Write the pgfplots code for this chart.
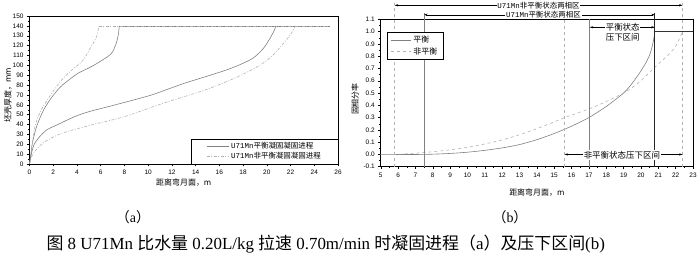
\documentclass[border=0pt]{standalone}
\usepackage{fontspec}
\setmainfont{Liberation Serif}
\newfontfamily\cjk{Noto Sans CJK SC}
\newfontfamily\sans{Liberation Sans}
\newfontfamily\mono{Liberation Mono}
\usepackage{pgfplots}
\pgfplotsset{compat=1.18}
\usetikzlibrary{arrows.meta}
\definecolor{eqc}{gray}{0.5}
\definecolor{neqc}{gray}{0.7}
\begin{document}
\begin{tikzpicture}
\useasboundingbox (0,0) rectangle (700bp,255bp);
\pgfplotsset{
  common/.style={
    scale only axis, anchor=south west,
    tick align=outside, xtick pos=bottom, ytick pos=left,
    major tick length=2.5bp, minor tick length=1.5bp,
    tick style={black, line width=0.4pt},
    axis line style={line width=0.6pt},
    tick label style={font=\sans\fontsize{6.5}{7}\selectfont},
    /pgf/number format/assume math mode=true,
    label style={font=\cjk\fontsize{8}{9}\selectfont},
  }
}
% ---------------- (a) ----------------
\begin{axis}[common,
  at={(29.5bp,91bp)}, width=308.5bp, height=148bp,
  xmin=0, xmax=26, ymin=0, ymax=150,
  xtick={0,2,...,26}, ytick={0,10,...,150},
  minor x tick num=1, minor y tick num=1,
  xlabel={距离弯月面，m}, ylabel={坯壳厚度，mm},
  xlabel style={at={(axis description cs:0.5,-0.128)}, anchor=center},
  ylabel style={at={(axis description cs:-0.07,0.466)}, anchor=center},
  legend style={at={(1,0)}, anchor=south east, draw=black, line width=0.4pt,
    font=\fontsize{7.5}{8.5}\selectfont, inner xsep=15bp, inner ysep=1.5bp,
    row sep=-1.5bp},
  legend cell align=left,
  legend image code/.code={\draw[#1] (0bp,0bp) -- (22bp,0bp);},
]
\addplot[eqc, line width=0.6pt, smooth, tension=0.5] coordinates {
(0,0) (0.1,8) (0.24,21) (0.6,38) (1.2,55) (1.9,68) (2.6,78) (3.3,85) (4.1,92)
(5.2,98.6) (6.1,105) (6.9,112) (7.3,122) (7.5,132) (7.56,140)};
\addlegendentry{{\mono U71Mn}{\cjk 平衡凝固凝固进程}}
\addplot[neqc, line width=0.6pt, smooth, tension=0.5, dash pattern=on 3bp off 1.5bp on 1bp off 1.5bp] coordinates {
(0,0) (0.1,8) (0.46,38) (1.0,55) (1.9,72) (2.7,85) (3.55,95) (4.5,105)
(5.2,119) (5.65,129) (5.85,140)};
\addlegendentry{{\mono U71Mn}{\cjk 非平衡凝固凝固进程}}
\addplot[eqc, line width=0.6pt, forget plot] coordinates {(7.56,140) (25.3,140)};
\addplot[neqc, line width=0.6pt, forget plot, dash pattern=on 3bp off 1.5bp on 1bp off 1.5bp] coordinates {(5.85,140) (25.3,140)};
\addplot[eqc, line width=0.6pt, smooth, tension=0.5, forget plot] coordinates {
(0,0) (0.15,10) (0.4,20) (0.88,28) (1.5,35) (2.3,39.5) (3.8,48) (5,53) (6.6,58)
(8.5,64) (10.3,70) (11.7,76) (13.1,82) (14.7,88) (16.4,94.5) (17.6,100)
(18.8,107) (19.7,117) (20.3,128) (20.65,136) (20.75,140)};
\addplot[neqc, line width=0.6pt, smooth, tension=0.5, dash pattern=on 3bp off 1.5bp on 1bp off 1.5bp, forget plot] coordinates {
(0,0) (0.2,8) (0.6,15) (1.3,22.6) (2.7,31) (5.2,39.5) (8.0,48) (11.0,60.5)
(13.1,68.5) (14.8,75) (16.6,83.4) (18.0,91) (19.4,100) (20.4,109) (21.1,118)
(21.8,128) (22.2,135) (22.4,140)};
\end{axis}
% ---------------- (b) ----------------
\begin{axis}[common,
  at={(380.7bp,88.3bp)}, width=312.3bp, height=147.4bp,
  xmin=5, xmax=23, ymin=-0.1, ymax=1.1, clip=false,
  xtick={5,6,...,23},
  ytick={-0.1,0,0.1,0.2,0.3,0.4,0.5,0.6,0.7,0.8,0.9,1.0,1.1},
  yticklabel style={/pgf/number format/.cd, fixed, fixed zerofill, precision=1},
  minor x tick num=1, minor y tick num=1,
  xlabel={距离弯月面，m}, ylabel={固相分率},
  xlabel style={at={(axis description cs:0.5,-0.178)}, anchor=center},
  ylabel style={at={(axis description cs:-0.082,0.459)}, anchor=center},
  legend style={at={(0.019,0.914)}, anchor=north west, draw=black, line width=0.4pt,
    font=\cjk\fontsize{8}{9}\selectfont, inner xsep=4bp, inner ysep=2bp,
    row sep=-1bp},
  legend cell align=left,
  legend image code/.code={\draw[#1] (0bp,0bp) -- (20bp,0bp);},
]
\addplot[eqc, line width=0.6pt, smooth, tension=0.4] coordinates {
(5,0) (7.5,0) (9,0.008) (10,0.018) (11,0.033) (12,0.053) (13,0.08) (14,0.12)
(15,0.17) (16,0.23) (17,0.30) (18,0.39) (19,0.5) (19.5,0.58) (20,0.68)
(20.3,0.75) (20.5,0.81) (20.65,0.88) (20.75,0.95) (20.8,1.0)};
\addlegendentry{平衡}
\addplot[neqc, line width=0.6pt, dashed, smooth, tension=0.4] coordinates {
(5,0) (5.8,0) (7,0.01) (8,0.022) (9,0.037) (10,0.058) (11,0.085) (12,0.118)
(13,0.16) (14,0.21) (15,0.265) (15.6,0.3) (16,0.32) (17,0.37) (18,0.43)
(19,0.5) (19.5,0.545) (20,0.6) (20.8,0.71) (21.5,0.8) (22,0.88) (22.4,1.0)};
\addlegendentry{非平衡}
% vertical guide lines
\addplot[neqc, dashed, line width=0.5pt, forget plot] coordinates {(5.8,-0.1) (5.8,1.235)};
\addplot[neqc, dashed, line width=0.5pt, forget plot] coordinates {(22.4,-0.1) (22.4,1.235)};
\addplot[neqc, dashed, line width=0.5pt, forget plot] coordinates {(15.6,-0.1) (15.6,1.1)};
\addplot[eqc, line width=0.6pt, forget plot] coordinates {(7.5,-0.1) (7.5,1.155)};
\addplot[eqc, line width=0.6pt, forget plot] coordinates {(17.05,-0.1) (17.05,1.1)};
\addplot[black!85, line width=1.3pt, forget plot] coordinates {(20.8,-0.1) (20.8,1.155)};
\addplot[black!80, line width=0.6pt, forget plot] coordinates {(20.8,1.0) (23,1.0)};
% brackets
\draw[{Stealth[length=3.5bp,width=2.2bp]}-{Stealth[length=3.5bp,width=2.2bp]}, line width=0.5pt]
  (axis cs:5.8,1.214) -- (axis cs:22.4,1.214);
\node[fill=white, inner sep=0.8bp, font=\fontsize{7.5}{8}\selectfont] at (axis cs:14.1,1.214)
  {{\mono U71Mn}{\cjk 非平衡状态两相区}};
\draw[{Stealth[length=3.5bp,width=2.2bp]}-{Stealth[length=3.5bp,width=2.2bp]}, line width=0.5pt]
  (axis cs:7.5,1.137) -- (axis cs:20.8,1.137);
\node[fill=white, inner sep=0.8bp, font=\fontsize{7.5}{8}\selectfont] at (axis cs:14.38,1.137)
  {{\mono U71Mn}{\cjk 平衡状态两相区}};
\draw[{Stealth[length=3.5bp,width=2.2bp]}-{Stealth[length=3.5bp,width=2.2bp]}, line width=0.5pt]
  (axis cs:17.05,1.035) -- (axis cs:20.8,1.035);
\node[fill=white, inner sep=0.8bp, font=\cjk\fontsize{8.5}{9}\selectfont] at (axis cs:18.95,1.035) {平衡状态};
\node[font=\cjk\fontsize{8.5}{9}\selectfont] at (axis cs:18.95,0.955) {压下区间};
\draw[{Stealth[length=3.5bp,width=2.2bp]}-{Stealth[length=3.5bp,width=2.2bp]}, line width=0.5pt]
  (axis cs:15.6,0.0) -- (axis cs:22.4,0.0);
\node[fill=white, inner sep=0.8bp, font=\cjk\fontsize{8.5}{9}\selectfont] at (axis cs:18.9,-0.005) {非平衡状态压下区间};
\end{axis}
% captions
\node[font=\fontsize{14}{14}\selectfont] at (133bp,38bp) {{\cjk （}a{\cjk ）}};
\node[font=\fontsize{14}{14}\selectfont] at (510bp,38bp) {{\cjk （}b{\cjk ）}};
\node[font=\fontsize{17}{17}\selectfont, anchor=west] at (43bp,11bp)
  {{\cjk 图} 8 U71Mn {\cjk 比水量} 0.20L/kg {\cjk 拉速} 0.70m/min {\cjk 时凝固进程（}a{\cjk ）及压下区间}(b)};
\end{tikzpicture}
\end{document}
